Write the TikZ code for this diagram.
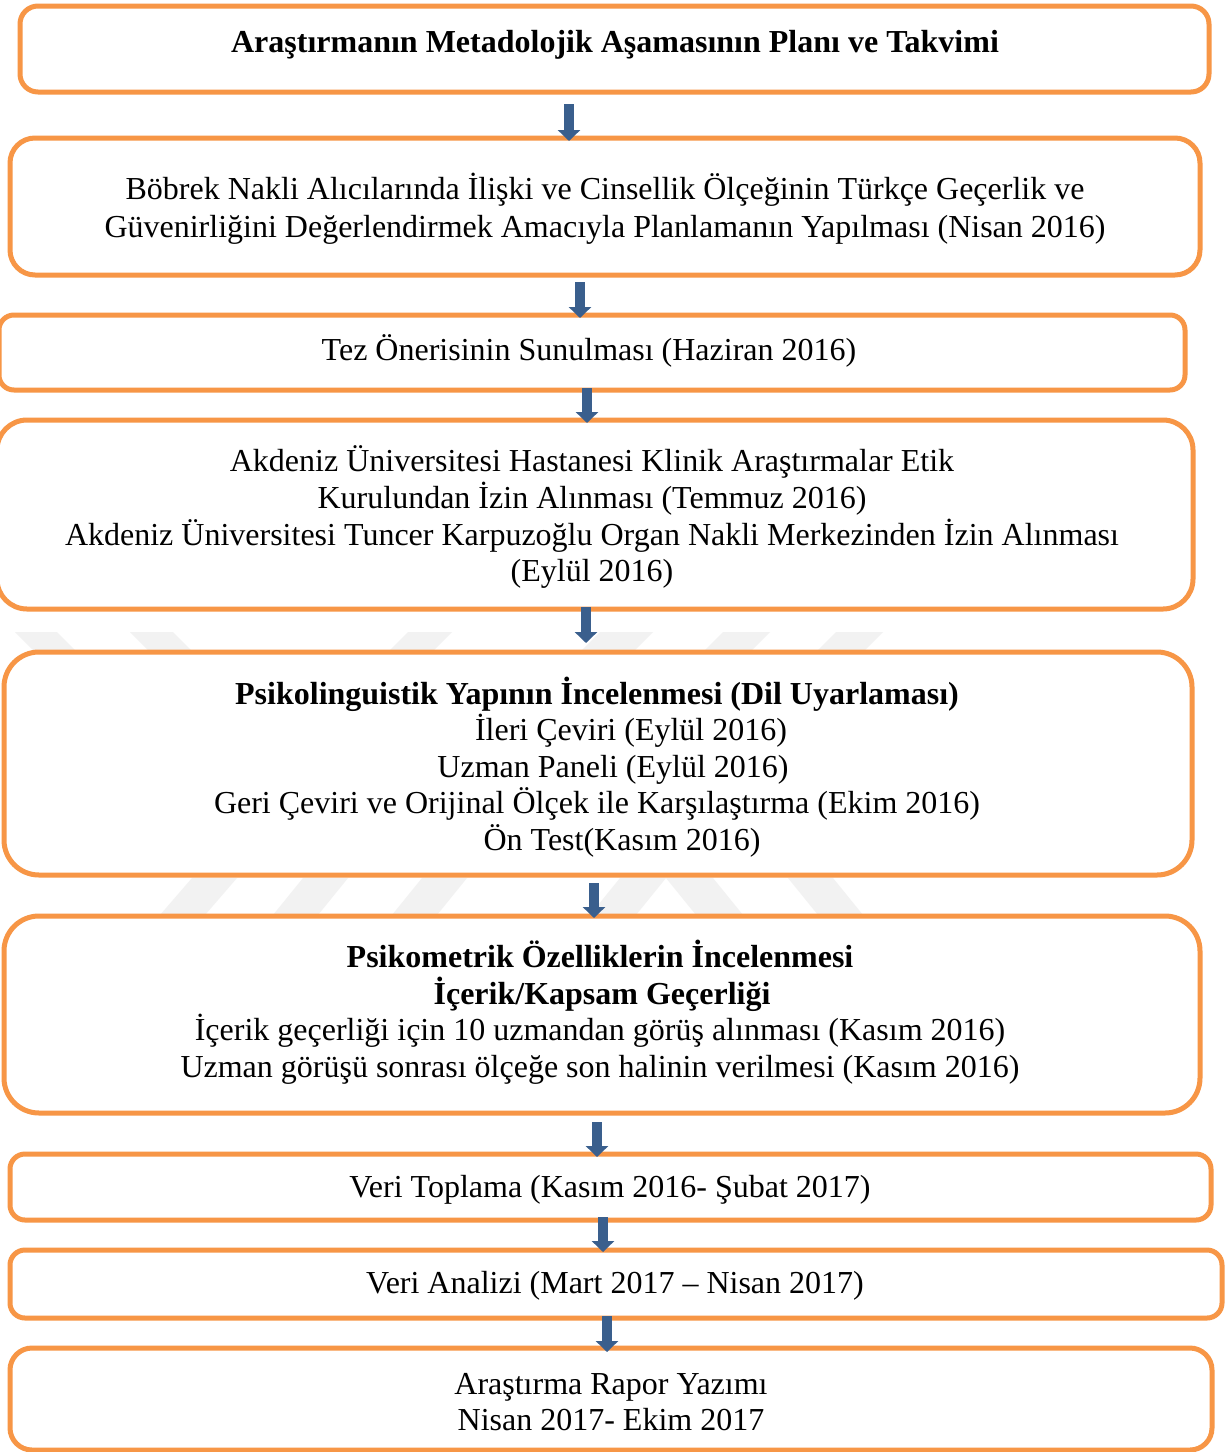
\documentclass[tikz,border=0pt]{standalone}
\usepackage{fontspec}
\setmainfont{Liberation Serif}
\usetikzlibrary{arrows.meta}
\definecolor{boxorange}{HTML}{F79646}
\definecolor{arrblue}{HTML}{3A5F8D}
\definecolor{wmgray}{HTML}{F2F2F2}
\begin{document}
\begin{tikzpicture}[x=1pt,y=-1pt,
  box/.style={draw=boxorange, line width=5pt, fill=white, rounded corners=#1, inner sep=0pt},
  txt/.style={anchor=base, inner sep=0pt, font=\fontsize{32}{37}\selectfont},
  btxt/.style={anchor=base, inner sep=0pt, font=\fontsize{32}{37}\selectfont\bfseries},
  flowarrow/.style={draw=arrblue, line width=10pt, -{Triangle[width=22pt,length=11pt]}},
  wm/.style={fill=wmgray, draw=none}]
\useasboundingbox (0,0) rectangle (1226,1452);
\fill[white] (0,0) rectangle (1226,1452);

% faint watermark (visible only in the gaps)
\fill[wm] (15,632) -- (57,632) -- (77,652) -- (35,652) -- cycle;
\fill[wm] (130,632) -- (173,632) -- (193,652) -- (150,652) -- cycle;
\fill[wm] (408,632) -- (452,632) -- (432,652) -- (388,652) -- cycle;
\fill[wm] (600,632) -- (653,632) -- (633,652) -- (580,652) -- cycle;
\fill[wm] (723,632) -- (770,632) -- (750,652) -- (703,652) -- cycle;
\fill[wm] (836,632) -- (883,632) -- (863,652) -- (816,652) -- cycle;
\fill[wm] (192,878) -- (237,878) -- (205,915) -- (160,915) -- cycle;
\fill[wm] (303,878) -- (348,878) -- (318,915) -- (273,915) -- cycle;
\fill[wm] (422,878) -- (467,878) -- (437,915) -- (392,915) -- cycle;
\fill[wm] (620,878) -- (666,878) -- (636,915) -- (590,915) -- cycle;
\fill[wm] (666,878) -- (713,878) -- (743,915) -- (696,915) -- cycle;
\fill[wm] (788,878) -- (833,878) -- (863,915) -- (818,915) -- cycle;

% boxes
\node[box=18pt, minimum width=1189pt, minimum height=86pt] (b1) at (614.5,49) {};
\node[box=25pt, minimum width=1190pt, minimum height=137pt] (b2) at (605,206.5) {};
\node[box=15pt, minimum width=1186pt, minimum height=75pt] (b3) at (592,352.5) {};
\node[box=30pt, minimum width=1196pt, minimum height=189pt] (b4) at (595,514.5) {};
\node[box=35pt, minimum width=1188pt, minimum height=223pt] (b5) at (598,763.5) {};
\node[box=35pt, minimum width=1196pt, minimum height=197pt] (b6) at (602,1014.5) {};
\node[box=15pt, minimum width=1201pt, minimum height=66pt] (b7) at (610.5,1187) {};
\node[box=15pt, minimum width=1212pt, minimum height=68pt] (b8) at (616,1284) {};
\node[box=22pt, minimum width=1202pt, minimum height=102pt] (b9) at (611,1399) {};

% texts
\node[btxt] (t1) at (615,52) {Araştırmanın Metadolojik Aşamasının Planı ve Takvimi};
\node[txt] (t2a) at (605,199) {Böbrek Nakli Alıcılarında İlişki ve Cinsellik Ölçeğinin Türkçe Geçerlik ve};
\node[txt] (t2b) at (605,237) {Güvenirliğini Değerlendirmek Amacıyla Planlamanın Yapılması (Nisan 2016)};
\node[txt] (t3) at (589,360) {Tez Önerisinin Sunulması (Haziran 2016)};
\node[txt] (t4a) at (592,471) {Akdeniz Üniversitesi Hastanesi Klinik Araştırmalar Etik};
\node[txt] (t4b) at (592,508) {Kurulundan İzin Alınması (Temmuz 2016)};
\node[txt] (t4c) at (592,545) {Akdeniz Üniversitesi Tuncer Karpuzoğlu Organ Nakli Merkezinden İzin Alınması};
\node[txt] (t4d) at (592,581) {(Eylül 2016)};
\node[btxt] (t5a) at (597,704) {Psikolinguistik Yapının İncelenmesi (Dil Uyarlaması)};
\node[txt] (t5b) at (631,740) {İleri Çeviri (Eylül 2016)};
\node[txt] (t5c) at (613,777) {Uzman Paneli (Eylül 2016)};
\node[txt] (t5d) at (597,813) {Geri Çeviri ve Orijinal Ölçek ile Karşılaştırma (Ekim 2016)};
\node[txt] (t5e) at (622,850) {Ön Test(Kasım 2016)};
\node[btxt] (t6a) at (600,967) {Psikometrik Özelliklerin İncelenmesi};
\node[btxt] (t6b) at (602,1004) {İçerik/Kapsam Geçerliği};
\node[txt] (t6c) at (600,1040) {İçerik geçerliği için 10 uzmandan görüş alınması (Kasım 2016)};
\node[txt] (t6d) at (600,1077) {Uzman görüşü sonrası ölçeğe son halinin verilmesi (Kasım 2016)};
\node[txt] (t7) at (610,1197) {Veri Toplama (Kasım 2016- Şubat 2017)};
\node[txt] (t8) at (615,1293) {Veri Analizi (Mart 2017 – Nisan 2017)};
\node[txt] (t9a) at (611,1394) {Araştırma Rapor Yazımı};
\node[txt] (t9b) at (611,1430) {Nisan 2017- Ekim 2017};

% arrows
\coordinate (a1s) at (569,104);  \coordinate (a1e) at (569,141);
\coordinate (a2s) at (580,282);  \coordinate (a2e) at (580,318);
\coordinate (a3s) at (587,388);  \coordinate (a3e) at (587,423);
\coordinate (a4s) at (586,607);  \coordinate (a4e) at (586,643);
\coordinate (a5s) at (594,883);  \coordinate (a5e) at (594,918);
\coordinate (a6s) at (597,1122); \coordinate (a6e) at (597,1157);
\coordinate (a7s) at (603,1217); \coordinate (a7e) at (603,1252);
\coordinate (a8s) at (607,1316); \coordinate (a8e) at (607,1352);
\draw[flowarrow] (a1s) -- (a1e);
\draw[flowarrow] (a2s) -- (a2e);
\draw[flowarrow] (a3s) -- (a3e);
\draw[flowarrow] (a4s) -- (a4e);
\draw[flowarrow] (a5s) -- (a5e);
\draw[flowarrow] (a6s) -- (a6e);
\draw[flowarrow] (a7s) -- (a7e);
\draw[flowarrow] (a8s) -- (a8e);
\end{tikzpicture}
\end{document}
